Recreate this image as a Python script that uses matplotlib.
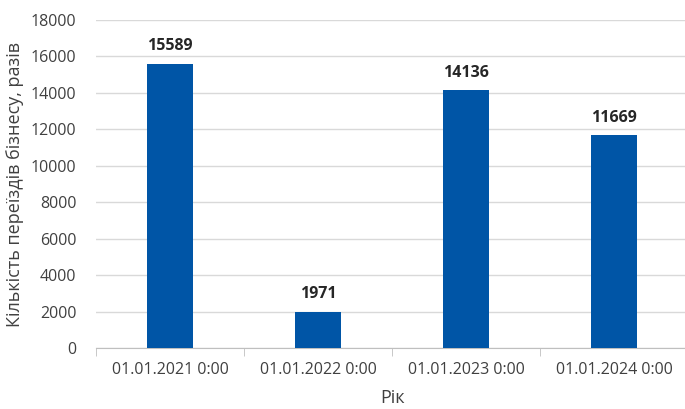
import matplotlib
matplotlib.use("Agg")
import matplotlib.pyplot as plt
import numpy as np

categories = ["01.01.2021 0:00", "01.01.2022 0:00", "01.01.2023 0:00", "01.01.2024 0:00"]
values = [15589, 1971, 14136, 11669]
y_ticks = [0, 2000, 4000, 6000, 8000, 10000, 12000, 14000, 16000, 18000]

plt.rcParams['font.family'] = ['Open Sans', 'DejaVu Sans']
txt = '#404040'

fig = plt.figure(figsize=(6.85, 4.09), dpi=100)
ax = fig.add_axes([96/685, 1-348/409, 592/685, (348-20)/409])

x = np.arange(len(categories))
ax.bar(x, values, width=0.31, color='#0055A6', zorder=3)
for xi, v in zip(x, values):
    ax.annotate(str(v), (xi, v), xytext=(0, 7), textcoords='offset points',
                ha='center', va='bottom', fontsize=11.5, fontweight='bold', color='#262626')

ax.set_xlim(-0.5, len(categories) - 0.5)
ax.set_ylim(0, 18000)
ax.set_yticks(y_ticks)
ax.set_yticklabels([str(t) for t in y_ticks], fontsize=11.5, color=txt)
ax.yaxis.grid(True, color='#D9D9D9', linewidth=1, zorder=0)
ax.tick_params(axis='y', length=0, pad=14)

ax.set_xticks(x)
ax.set_xticklabels(categories, fontsize=11.5, color=txt)
ax.set_xticks(np.arange(-0.5, len(categories) + 0.5, 1), minor=True)
ax.tick_params(axis='x', which='major', length=0, pad=10)
ax.tick_params(axis='x', which='minor', length=6, color='#BFBFBF')

for s in ['top', 'right', 'left']:
    ax.spines[s].set_visible(False)
ax.spines['bottom'].set_color('#BFBFBF')

ax.set_ylabel("Кількість переїздів бізнесу, разів", fontsize=13, color=txt, labelpad=5)
ax.set_xlabel("Рік", fontsize=13, color=txt, labelpad=8)

fig.savefig("out.png", dpi=100)
